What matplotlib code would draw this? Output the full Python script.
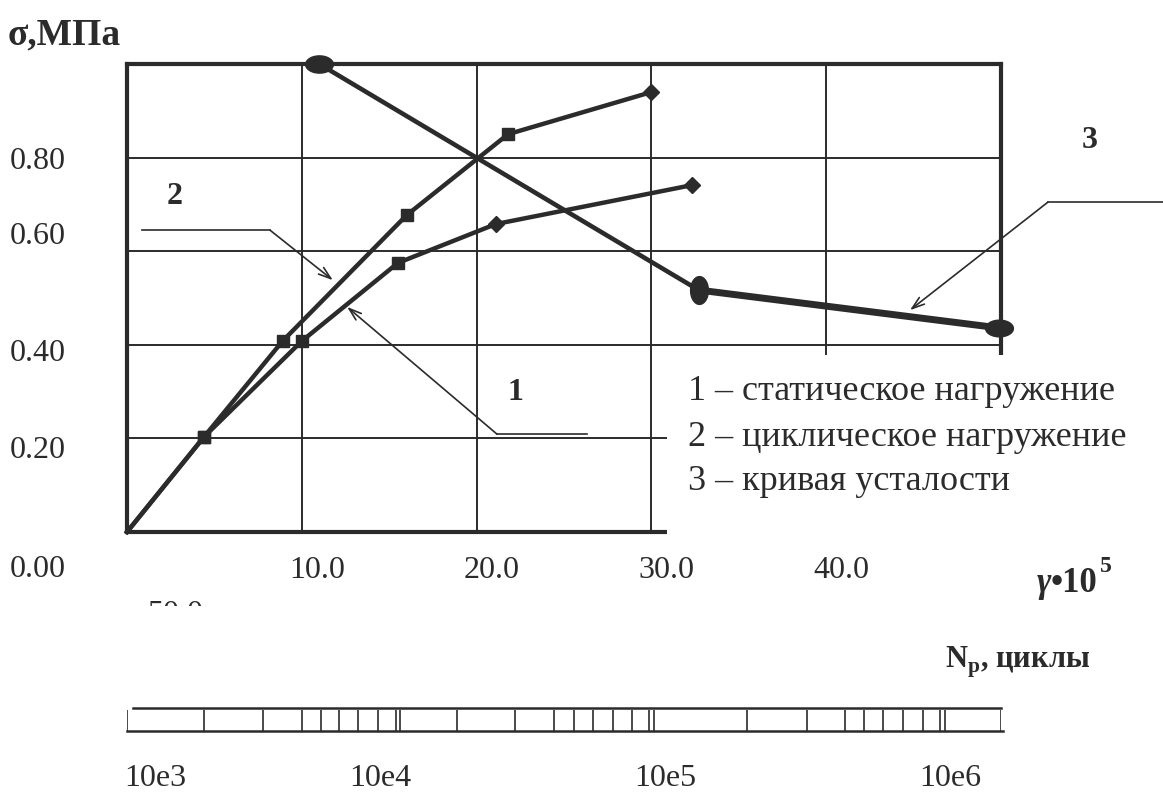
import numpy as np
import matplotlib
matplotlib.use("Agg")
import matplotlib.pyplot as plt
from matplotlib.path import Path
from matplotlib.patches import Rectangle
from matplotlib.transforms import ScaledTranslation

plt.rcParams['font.family'] = ['Liberation Serif', 'DejaVu Serif']
plt.rcParams['mathtext.fontset'] = 'custom'
plt.rcParams['mathtext.rm'] = 'Liberation Serif'
plt.rcParams['mathtext.bf'] = 'Liberation Serif:bold'

W, H = 1163, 796
INK = '#2b2b2b'

# curve 1 - static loading
gamma_static = [0.0, 4.4, 10.0, 15.5, 21.1, 32.3]
sigma_static = [0.0, 0.203, 0.408, 0.575, 0.658, 0.741]
# curve 2 - cyclic loading
gamma_cyclic = [0.0, 4.4, 8.9, 16.0, 21.8, 30.0]
sigma_cyclic = [0.0, 0.203, 0.408, 0.677, 0.850, 0.940]
# curve 3 - fatigue curve
gamma_fatigue = [11.0, 32.7, 49.9]
sigma_fatigue = [1.0, 0.517, 0.436]

x_ticks = [10, 20, 30, 40]
x_tick_labels = ['10.0', '20.0', '30.0', '40.0']
y_ticks = [0.0, 0.2, 0.4, 0.6, 0.8]
y_tick_labels = ['0.00', '0.20', '0.40', '0.60', '0.80']

# hand drawn N_p ruler under the chart (positions in gamma units)
np_ticks = [0.0, 4.41, 7.78, 10.01, 11.10, 12.13, 13.22, 14.36, 15.39, 15.62,
            18.88, 22.20, 24.43, 25.57, 26.66, 27.80, 28.89, 29.86, 30.15,
            35.47, 38.90, 41.08, 42.16, 43.25, 44.39, 45.54, 46.51, 46.80, 50.0]
np_labels = ['10e3', '10e4', '10e5', '10e6']
np_label_pos = [1.6, 14.5, 30.8, 47.1]

legend_lines = ['1 – статическое нагружение',
                '2 – циклическое нагружение',
                '3 – кривая усталости']

# leader lines: start, corner, arrow tip (data coords)
leaders = {
    '2': [(0.86, 0.645), (8.18, 0.645), (11.78, 0.538)],
    '1': [(26.3, 0.209), (21.17, 0.209), (12.59, 0.481)],
    '3': [(59.3, 0.705), (52.69, 0.705), (44.79, 0.474)],
}


def px(x, y):
    return x / W, 1 - y / H


def ellipse_marker(a, b):
    t = np.linspace(0, 2 * np.pi, 64)
    return Path(np.column_stack([a * np.cos(t), b * np.sin(t)]), closed=True)


fig = plt.figure(figsize=(W / 100, H / 100), dpi=100)
ax = fig.add_axes([127 / W, 1 - 532 / H, 874 / W, 468 / H])
ax.set_xlim(0, 50)
ax.set_ylim(0, 1)

for s in ax.spines.values():
    s.set_linewidth(3.0)
    s.set_color(INK)

# grid
for xv in x_ticks:
    ax.plot([xv, xv], [0, 1], color=INK, lw=1.4, zorder=1)
for yv in y_ticks[1:]:
    ax.plot([0, 50], [yv, yv], color=INK, lw=1.4, zorder=1)

# white panel behind the legend text (covers lower right of the frame)
ax.add_patch(Rectangle((30.9, -0.03), 30, 0.408, facecolor='white',
                       edgecolor='none', zorder=3, clip_on=False))

# curves 1 and 2
static_marks = [None, 's', 's', 's', 'D', 'D']
cyclic_marks = [None, 's', 's', 's', 's', 'D']
ax.plot(gamma_static, sigma_static, color=INK, lw=3.2, zorder=4, clip_on=False)
ax.plot(gamma_cyclic, sigma_cyclic, color=INK, lw=3.2, zorder=4, clip_on=False)
for g, s, m in zip(gamma_static, sigma_static, static_marks):
    if m:
        ax.plot(g, s, marker=m, ms=9 if m == 's' else 8, color=INK, zorder=5)
for g, s, m in zip(gamma_cyclic, sigma_cyclic, cyclic_marks):
    if m:
        ax.plot(g, s, marker=m, ms=9 if m == 's' else 8, color=INK, zorder=5)

# curve 3
ax.plot(gamma_fatigue[:2], sigma_fatigue[:2], color=INK, lw=3.3, zorder=4, clip_on=False)
ax.plot(gamma_fatigue[1:], sigma_fatigue[1:], color=INK, lw=5.0, zorder=4,
        clip_on=False, solid_capstyle='round')
fat_marks = [ellipse_marker(1, 0.62), ellipse_marker(0.64, 1), ellipse_marker(1, 0.6)]
for g, s, m in zip(gamma_fatigue, sigma_fatigue, fat_marks):
    ax.plot(g, s, marker=m, ms=20, color=INK, zorder=6, clip_on=False)

# leader lines with arrows
for key, pts in leaders.items():
    (x0, y0), (x1, y1), (x2, y2) = pts
    ax.plot([x0, x1], [y0, y1], color=INK, lw=1.2, zorder=4, clip_on=False)
    ax.annotate('', xy=(x2, y2), xytext=(x1, y1), annotation_clip=False,
                arrowprops=dict(arrowstyle='->,head_length=0.9,head_width=0.3',
                                color=INK, lw=1.2, shrinkA=0, shrinkB=0),
                zorder=4)

# tick labels
ax.set_xticks(x_ticks, x_tick_labels)
ax.set_yticks(y_ticks, y_tick_labels)
ax.tick_params(axis='both', length=0, labelsize=23, colors=INK)
ax.tick_params(axis='x', pad=17)
ax.tick_params(axis='y', pad=44)
y_shift_px = [-34, -9, -5, 18, 0]
for lab, dy in zip(ax.get_yticklabels(), y_shift_px):
    lab.set_transform(lab.get_transform() + ScaledTranslation(0, dy / 100, fig.dpi_scale_trans))
for lab in ax.get_xticklabels():
    lab.set_transform(lab.get_transform() + ScaledTranslation(0.15, 0, fig.dpi_scale_trans))

# axis titles
fig.text(*px(8, 35), 'σ,МПа', fontsize=27, fontweight='bold', color=INK, va='center')
fig.text(*px(1037, 583), 'γ', fontsize=25, fontweight='bold', style='italic',
         color=INK, va='center')
fig.text(*px(1051, 583), '•10', fontsize=25, fontweight='bold', color=INK, va='center')
fig.text(*px(1100, 566), '5', fontsize=17, fontweight='bold', color=INK, va='center')
fig.text(*px(945, 662), r'N$_\mathbf{p}$, циклы', fontsize=22, fontweight='bold',
         color=INK, va='center')

# curve numbers
fig.text(*px(175, 197), '2', fontsize=23, fontweight='bold', color=INK, ha='center', va='center')
fig.text(*px(515, 393), '1', fontsize=23, fontweight='bold', color=INK, ha='center', va='center')
fig.text(*px(1090, 140), '3', fontsize=23, fontweight='bold', color=INK, ha='center', va='center')

# legend text
for i, line in enumerate(legend_lines):
    fig.text(*px(688, 392 + 45 * i), line, fontsize=26, color=INK, va='center')

# half-cut "50.0" from the scan
t50 = fig.text(*px(175, 614), '50.0', fontsize=23, color=INK, ha='center', va='center')
t50.set_clip_path(Rectangle((0, 1 - 606 / H), 1, 606 / H, transform=fig.transFigure))

# N_p ruler
ax2 = fig.add_axes([127 / W, 1 - 731 / H, 874 / W, 23 / H])
ax2.set_xlim(0, 50)
ax2.set_ylim(0, 1)
for s in ax2.spines.values():
    s.set_visible(False)
ax2.plot([0.34, 50], [1, 1], color=INK, lw=1.8, clip_on=False)
ax2.plot([0, 50.1], [0, 0], color=INK, lw=1.8, clip_on=False)
ax2.vlines(np_ticks, 0, 0.93, color=INK, lw=1.2)
ax2.set_yticks([])
ax2.set_xticks(np_label_pos, np_labels)
ax2.tick_params(axis='x', length=0, pad=24, labelsize=23, colors=INK)
ax2.patch.set_alpha(0)

fig.savefig('out.png', dpi=100)
